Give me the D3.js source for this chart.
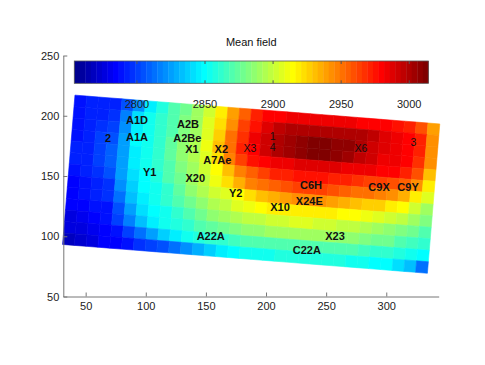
<!DOCTYPE html>
<html>
<head>
<meta charset="utf-8">
<script src="https://cdn.jsdelivr.net/npm/d3@7"></script>
<style>
  body { margin: 0; background: #fff; }
  svg { display: block; font-family: Arial, "Liberation Sans", Helvetica, sans-serif; }
</style>
</head>
<body>
<div id="chart"></div>
<script>
// mean field on the rotated grid, 13 rows (top to bottom) x 31 columns (left to right)
var meanField = [
  [2789,2791,2794,2793,2806,2822,2845,2858,2868,2879,2889,2902,2918,2939,2957,2970,2978,2980,2983,2983,2983,2983,2983,2983,2980,2980,2978,2975,2970,2959,2939],
  [2789,2791,2794,2798,2816,2840,2853,2863,2871,2881,2892,2905,2923,2944,2962,2975,2988,2996,2998,3001,3001,3001,3001,3001,2998,2996,2988,2983,2980,2970,2944],
  [2789,2791,2796,2801,2819,2845,2853,2863,2871,2881,2892,2907,2928,2949,2967,2983,2993,2998,3004,3009,3011,3011,3009,3006,2998,2993,2988,2983,2980,2970,2944],
  [2789,2791,2799,2806,2824,2848,2853,2863,2874,2884,2894,2910,2931,2952,2970,2980,2991,2998,3004,3009,3011,3011,3009,3004,2996,2991,2985,2983,2980,2967,2941],
  [2791,2791,2799,2809,2827,2845,2853,2863,2874,2884,2894,2907,2923,2946,2962,2975,2980,2983,2985,2988,2988,2988,2988,2985,2983,2983,2980,2978,2972,2959,2931],
  [2791,2794,2799,2809,2827,2845,2853,2861,2871,2881,2892,2902,2915,2931,2946,2957,2965,2970,2972,2975,2975,2975,2972,2970,2967,2965,2962,2959,2954,2941,2920],
  [2789,2791,2796,2803,2824,2842,2850,2858,2868,2879,2889,2900,2910,2923,2936,2946,2952,2957,2959,2962,2962,2962,2959,2957,2952,2949,2946,2941,2933,2920,2905],
  [2786,2789,2794,2798,2819,2837,2848,2855,2863,2874,2884,2894,2902,2907,2913,2923,2931,2936,2939,2941,2941,2941,2939,2936,2931,2928,2926,2920,2913,2902,2892],
  [2786,2789,2791,2796,2814,2832,2845,2853,2861,2868,2879,2887,2894,2900,2905,2910,2915,2918,2920,2920,2920,2920,2918,2915,2913,2910,2905,2902,2897,2889,2881],
  [2783,2786,2789,2790,2806,2824,2840,2850,2855,2863,2871,2879,2884,2889,2894,2897,2900,2902,2902,2905,2905,2902,2902,2900,2897,2894,2892,2887,2881,2876,2871],
  [2778,2780,2783,2788,2801,2816,2832,2845,2853,2858,2863,2868,2874,2879,2881,2884,2887,2889,2889,2892,2892,2892,2889,2887,2884,2881,2879,2876,2871,2866,2861],
  [2775,2778,2780,2783,2790,2801,2814,2827,2837,2845,2853,2858,2861,2863,2866,2868,2868,2871,2871,2871,2871,2871,2871,2868,2868,2866,2863,2861,2858,2853,2848],
  [2767,2772,2777,2783,2785,2790,2796,2801,2806,2814,2822,2829,2837,2845,2850,2853,2855,2855,2858,2858,2858,2858,2858,2858,2855,2853,2850,2848,2842,2832,2811]
]

// grid geometry (data units): top-left node, step along a row, step down a column
var gridTopLeft = [41.1, 217.1]
var colStep = [9.787, -0.771]
var rowStep = [-0.792, -9.531]

var stationNames = ['A1D','A1A','2','A2B','A2Be','X1','X2','A7Ae','X3','1','4','X6','3','Y1','X20','Y2','C6H','C9X','C9Y','X24E','X10','A22A','X23','C22A']
var stationX = [92.7, 92.7, 68.6, 135.1, 134.5, 138.4, 162.8, 159.5, 186.7, 205.6, 205.6, 279.0, 322.5, 103.2, 141.2, 174.8, 237.4, 294.0, 318.1, 236.0, 211.6, 154.0, 257.4, 233.9]
var stationY = [196.2, 182.3, 181.2, 193.2, 181.2, 172.1, 172.7, 163.5, 172.9, 183.4, 174.0, 172.7, 178.2, 153.2, 148.5, 135.7, 142.1, 141.0, 141.0, 129.6, 124.3, 100.4, 100.4, 88.8]
var stationBold = [1,1,1,1,1,1,1,1,0,0,0,0,0,1,1,1,1,1,1,1,1,1,1,1]

var xDomain = [31.4, 343.6]
var yDomain = [50, 250]
var xTicks = [50, 100, 150, 200, 250, 300]
var yTicks = [50, 100, 150, 200, 250]
var colorDomain = [2754, 3014]
var colorTicks = [2800, 2850, 2900, 2950, 3000]
var colorTitle = 'Mean field'

// MATLAB style jet colormap with n levels
function jet (n) {
  var m = Math.ceil(n / 4)
  var u = d3.range(1, m + 1).map(function (i) { return i / m })
    .concat(d3.range(m - 1).map(function () { return 1 }))
    .concat(d3.range(m, 0, -1).map(function (i) { return i / m }))
  var J = d3.range(n).map(function () { return [0, 0, 0] })
  u.forEach(function (val, k) {
    var g = Math.ceil(m / 2) + k + 1
    if (g <= n) J[g - 1][1] = val
    if (g + m <= n) J[g + m - 1][0] = val
    if (g - m >= 1) J[g - m - 1][2] = val
  })
  return J.map(function (c) { return d3.rgb(c[0] * 255, c[1] * 255, c[2] * 255).formatHex() })
}

var svg = d3.select('#chart').append('svg')
  .attr('width', 485)
  .attr('height', 365)

var x = d3.scaleLinear().domain(xDomain).range([63.3, 438.7])
var y = d3.scaleLinear().domain(yDomain).range([296.5, 55.5])
var colors = jet(64)
var color = d3.scaleQuantize().domain(colorDomain).range(colors)

function node (i, j) {
  return [
    gridTopLeft[0] + j * colStep[0] + i * rowStep[0],
    gridTopLeft[1] + j * colStep[1] + i * rowStep[1]
  ]
}

var cells = []
meanField.forEach(function (row, i) {
  row.forEach(function (v, j) {
    cells.push({row: i, col: j, value: v})
  })
})

svg.append('g')
  .attr('class', 'cells')
  .selectAll('path')
  .data(cells)
  .join('path')
  .attr('d', function (d) {
    var pts = [node(d.row, d.col), node(d.row, d.col + 1), node(d.row + 1, d.col + 1), node(d.row + 1, d.col)]
    return 'M' + pts.map(function (p) { return x(p[0]).toFixed(2) + ',' + y(p[1]).toFixed(2) }).join('L') + 'Z'
  })
  .attr('fill', function (d) { return color(d.value) })
  .attr('stroke', function (d) { return color(d.value) })
  .attr('stroke-width', 0.6)

// axes, ticks pointing inwards like matlab
var xAxis = svg.append('g')
  .attr('transform', 'translate(0,' + y(yDomain[0]) + ')')
  .call(d3.axisBottom(x).tickValues(xTicks).tickSizeInner(-4).tickSizeOuter(0).tickPadding(6))
var yAxis = svg.append('g')
  .attr('transform', 'translate(' + x(xDomain[0]) + ',0)')
  .call(d3.axisLeft(y).tickValues(yTicks).tickSizeInner(-4).tickSizeOuter(0).tickPadding(4))

;[xAxis, yAxis].forEach(function (a) {
  a.selectAll('path, line').attr('stroke', '#777')
  a.selectAll('text').attr('fill', '#222').style('font-size', '11px')
})

// station labels
svg.append('g')
  .selectAll('text')
  .data(stationNames)
  .join('text')
  .attr('x', function (d, i) { return x(stationX[i]) })
  .attr('y', function (d, i) { return y(stationY[i]) })
  .attr('dy', '0.36em')
  .attr('text-anchor', 'middle')
  .style('font-size', function (d, i) { return stationBold[i] ? '11px' : '10.5px' })
  .style('font-weight', function (d, i) { return stationBold[i] ? 'bold' : 'normal' })
  .attr('fill', '#111')
  .text(function (d) { return d })

// colorbar
var cb = {left: 74.3, right: 428.3, top: 61, bottom: 83.3}
var cx = d3.scaleLinear().domain(colorDomain).range([cb.left, cb.right])
var step = (colorDomain[1] - colorDomain[0]) / colors.length

svg.append('g')
  .selectAll('rect')
  .data(colors)
  .join('rect')
  .attr('x', function (d, i) { return cx(colorDomain[0] + i * step) })
  .attr('y', cb.top)
  .attr('width', function (d, i) { return cx(colorDomain[0] + (i + 1) * step) - cx(colorDomain[0] + i * step) + 0.4 })
  .attr('height', cb.bottom - cb.top)
  .attr('fill', function (d) { return d })

var cbTicks = svg.append('g')
cbTicks.selectAll('line.t')
  .data(colorTicks)
  .join('line')
  .attr('x1', function (d) { return cx(d) })
  .attr('x2', function (d) { return cx(d) })
  .attr('y1', cb.top)
  .attr('y2', cb.top + 3)
  .attr('stroke', '#555')
cbTicks.selectAll('line.b')
  .data(colorTicks)
  .join('line')
  .attr('x1', function (d) { return cx(d) })
  .attr('x2', function (d) { return cx(d) })
  .attr('y1', cb.bottom - 3)
  .attr('y2', cb.bottom)
  .attr('stroke', '#555')

svg.append('rect')
  .attr('x', cb.left)
  .attr('y', cb.top)
  .attr('width', cb.right - cb.left)
  .attr('height', cb.bottom - cb.top)
  .attr('fill', 'none')
  .attr('stroke', '#555')
  .attr('stroke-width', 0.8)

svg.append('g')
  .selectAll('text')
  .data(colorTicks)
  .join('text')
  .attr('x', function (d) { return cx(d) })
  .attr('y', 108.3)
  .attr('text-anchor', 'middle')
  .style('font-size', '11px')
  .attr('fill', '#222')
  .text(function (d) { return d })

svg.append('text')
  .attr('x', (cb.left + cb.right) / 2)
  .attr('y', 46)
  .attr('text-anchor', 'middle')
  .style('font-size', '11px')
  .attr('fill', '#111')
  .text(colorTitle)
</script>
</body>
</html>
